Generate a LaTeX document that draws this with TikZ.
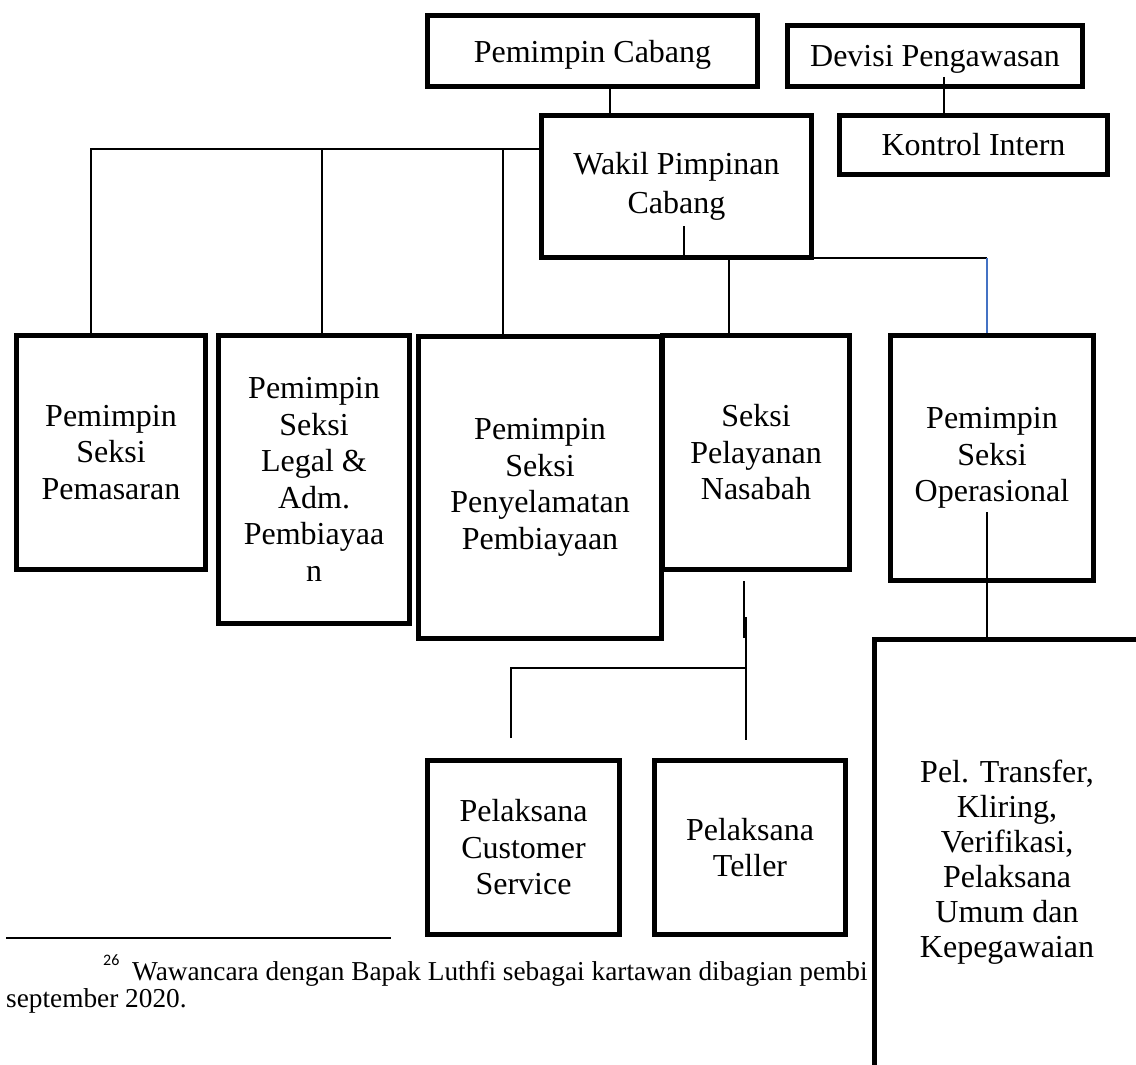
\documentclass[tikz,border=0pt]{standalone}
\usepackage{fontspec}
\setmainfont{Liberation Serif}
\newfontfamily\calib{Carlito}
\definecolor{wordblue}{RGB}{68,114,196}
\begin{document}
\begin{tikzpicture}[x=1pt,y=-1pt,
  box/.style={draw, line width=5pt, inner sep=0pt, align=center,
    font=\fontsize{32}{36.5}\selectfont},
  conn/.style={line width=1.3pt},
  fntext/.style={anchor=base west, inner sep=0pt, font=\fontsize{27.3}{27.3}\selectfont}]
\useasboundingbox (0,0) rectangle (1136,1065);
\clip (0,0) rectangle (1136,1065);

% top boxes
\node[box, text depth=0pt, minimum width=330pt, minimum height=71pt] (pc) at (592.5,51) {Pemimpin Cabang};
\node[box, text depth=0pt, minimum width=295pt, minimum height=61pt] (dp) at (935,56) {Devisi Pengawasan};
\node[box, minimum width=268pt, minimum height=59pt] (ki) at (973.5,145) {Kontrol Intern};
\node[box, minimum width=270pt, minimum height=142pt, font=\fontsize{32}{39}\selectfont] (wk) at (676.5,186.5) {Wakil Pimpinan\\Cabang};

% second row
\node[box, minimum width=189pt, minimum height=234pt] (pm) at (111,452.5) {Pemimpin\\Seksi\\Pemasaran};
\node[box, minimum width=191pt, minimum height=288pt] (lg) at (314,479.5) {Pemimpin\\Seksi\\Legal \&\\Adm.\\Pembiayaa\\n};
\node[box, minimum width=243pt, minimum height=302pt] (py) at (540,487.5) {Pemimpin\\Seksi\\Penyelamatan\\Pembiayaan};
\node[box, minimum width=187pt, minimum height=234pt] (nb) at (756,452.5) {Seksi\\Pelayanan\\Nasabah};
\node[box, minimum width=203pt, minimum height=245pt] (op) at (992,458) {Pemimpin\\Seksi\\Operasional};

% third row
\node[box, minimum width=192pt, minimum height=174pt] (cs) at (523.5,847.5) {Pelaksana\\Customer\\Service};
\node[box, minimum width=191pt, minimum height=174pt] (tl) at (750,847.5) {Pelaksana\\Teller};

% footnote
\draw[line width=2pt] (6,938) -- (391,938);
\node[anchor=base west, inner sep=0pt, font=\calib\fontsize{16}{16}\selectfont] (fnn) at (103,965) {26};
\node[fntext] (fn1) at (132,980) {Wawancara dengan Bapak Luthfi sebagai kartawan dibagian pembi};
\node[fntext] (fn2) at (6,1007) {september 2020.};

% bottom-right box (cut by page edge)
\node[box, fill=white, minimum width=265pt, minimum height=446pt,
  font=\fontsize{32}{35}\selectfont] (pt) at (1007,862.5)
  {Pel. Transfer,\\Kliring,\\Verifikasi,\\Pelaksana\\Umum dan\\Kepegawaian};

% connectors
\coordinate (pcb) at ([xshift=17.5pt]pc.south);
\draw[conn] (pcb) -- (pcb |- wk.north);

\coordinate (dpt) at (944,77);
\draw[conn] (dpt) -- (dpt |- ki.north);

\coordinate (wks) at (684,226);
\draw[conn] (wks) -- (wks |- wk.south);

\coordinate (busy) at (0,149);
\draw[conn] (wk.west |- busy) -| ([xshift=-20pt]pm.north);
\coordinate (lgtop) at ([xshift=8pt]lg.north);
\draw[conn] (lgtop |- busy) -- (lgtop);
\coordinate (pytop) at ([xshift=-37pt]py.north);
\draw[conn] (pytop |- busy) -- (pytop);

\coordinate (nbtop) at ([xshift=-27pt]nb.north);
\draw[conn] (nbtop |- wk.south) -- (nbtop);

\coordinate (hy) at (0,258);
\coordinate (optop) at ([xshift=-5pt]op.north);
\draw[conn] (wk.east |- hy) -- (optop |- hy);
\draw[conn, wordblue] (optop |- hy) -- (optop);

\coordinate (opy) at (0,512);
\draw[conn] (optop |- opy) -- (optop |- pt.north);

\coordinate (nbs) at (744,581);
\coordinate (nbm) at (744,638);
\draw[conn] (nbs) -- (nbm);
\coordinate (brk) at (746,617);
\coordinate (tltop) at ([xshift=-4pt,yshift=18pt]tl.north);
\draw[conn] (brk) -- (tltop);
\coordinate (cstop) at ([xshift=-12.5pt,yshift=20pt]cs.north);
\coordinate (jy) at (0,668);
\draw[conn] (cstop) -- (cstop |- jy) -- (tltop |- jy);
\end{tikzpicture}
\end{document}
